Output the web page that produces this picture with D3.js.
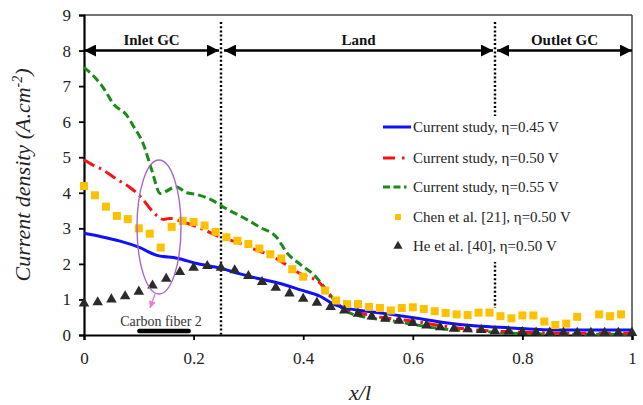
<!DOCTYPE html>
<html><head><meta charset="utf-8">
<script src="https://cdn.jsdelivr.net/npm/d3@7"></script>
<style>
body{margin:0;background:#fff;}
svg{display:block;}
svg text{font-family:"Liberation Serif","Times New Roman",Times,Tinos,serif !important;}
</style></head>
<body><svg id="c" width="643" height="405"></svg>
<script>
// ---------- data ----------
const xTicks = [0, 0.2, 0.4, 0.6, 0.8, 1];
const xTickLabels = ["0", "0.2", "0.4", "0.6", "0.8", "1"];
const yTicks = [0,1,2,3,4,5,6,7,8,9];

const blueX = [0, 0.03, 0.066, 0.10, 0.133, 0.17, 0.206, 0.248, 0.285, 0.32, 0.358, 0.395, 0.431, 0.455, 0.48, 0.516, 0.56, 0.608, 0.656, 0.717, 0.778, 0.839, 0.9, 1.0];
const blueY = [2.86, 2.77, 2.64, 2.47, 2.24, 2.16, 2.01, 1.88, 1.72, 1.58, 1.45, 1.27, 1.09, 0.87, 0.75, 0.67, 0.58, 0.47, 0.35, 0.25, 0.20, 0.15, 0.14, 0.14];

const redX = [0, 0.014, 0.035, 0.06, 0.084, 0.105, 0.126, 0.145, 0.157, 0.18, 0.2, 0.248, 0.279, 0.309, 0.34, 0.37, 0.395, 0.43, 0.449, 0.468, 0.498, 0.541, 0.60, 0.656, 0.717, 0.778, 0.839, 0.9, 1.0];
const redY = [4.93, 4.80, 4.64, 4.38, 4.15, 3.86, 3.46, 3.25, 3.28, 3.18, 3.08, 2.76, 2.61, 2.42, 2.24, 1.97, 1.72, 1.47, 1.09, 0.81, 0.64, 0.50, 0.39, 0.25, 0.14, 0.09, 0.06, 0.05, 0.05];

const greenX = [0, 0.017, 0.035, 0.054, 0.078, 0.09, 0.108, 0.124, 0.139, 0.151, 0.167, 0.188, 0.206, 0.23, 0.26, 0.297, 0.321, 0.352, 0.37, 0.395, 0.419, 0.443, 0.461, 0.48, 0.516, 0.553, 0.60, 0.656, 0.717, 0.778, 0.839, 0.9, 1.0];
const greenY = [7.53, 7.29, 6.96, 6.49, 6.18, 5.88, 5.38, 4.62, 3.98, 4.05, 4.17, 4.0, 3.95, 3.82, 3.55, 3.25, 3.03, 2.74, 2.32, 1.98, 1.70, 1.26, 0.90, 0.66, 0.49, 0.42, 0.30, 0.17, 0.11, 0.05, 0.03, 0.02, 0.02];

const chenX = [0, 0.02, 0.04, 0.06, 0.08, 0.10, 0.12, 0.14, 0.16, 0.18, 0.20, 0.22, 0.24, 0.26, 0.28, 0.30, 0.32, 0.34, 0.36, 0.38, 0.40, 0.44, 0.46, 0.48, 0.50, 0.52, 0.54, 0.56, 0.58, 0.60, 0.62, 0.64, 0.66, 0.68, 0.70, 0.72, 0.74, 0.76, 0.78, 0.80, 0.82, 0.84, 0.86, 0.88, 0.90, 0.94, 0.96, 0.98];
const chenY = [4.19, 3.93, 3.61, 3.35, 3.26, 3.0, 2.85, 2.46, 3.04, 3.21, 3.18, 3.08, 2.90, 2.75, 2.65, 2.56, 2.43, 2.27, 2.15, 1.85, 1.64, 1.25, 0.97, 0.87, 0.87, 0.79, 0.76, 0.69, 0.76, 0.78, 0.73, 0.67, 0.62, 0.58, 0.56, 0.63, 0.63, 0.53, 0.47, 0.55, 0.55, 0.38, 0.28, 0.32, 0.51, 0.58, 0.53, 0.58];

const heX = [0, 0.025, 0.05, 0.075, 0.1, 0.125, 0.15, 0.175, 0.2, 0.225, 0.25, 0.275, 0.3, 0.325, 0.35, 0.375, 0.4, 0.425, 0.45, 0.475, 0.5, 0.525, 0.55, 0.575, 0.6, 0.625, 0.65, 0.675, 0.7, 0.725, 0.75, 0.775, 0.8, 0.825, 0.85, 0.875, 0.9, 0.925, 0.95, 0.975, 1.0];
const heY = [0.89, 0.92, 1.0, 1.09, 1.22, 1.39, 1.58, 1.77, 1.89, 1.94, 1.89, 1.82, 1.66, 1.49, 1.33, 1.17, 1.02, 0.91, 0.79, 0.69, 0.60, 0.52, 0.46, 0.40, 0.34, 0.27, 0.22, 0.18, 0.16, 0.14, 0.11, 0.10, 0.08, 0.07, 0.07, 0.06, 0.06, 0.06, 0.06, 0.06, 0.06];

const legendLabels = ["Current study, \u03b7=0.45 V", "Current study, \u03b7=0.50 V", "Current study, \u03b7=0.55 V", "Chen et al. [21], \u03b7=0.50 V", "He et al. [40], \u03b7=0.50 V"];
const regionBounds = [0, 0.25, 0.75, 1];
const regionNames = ["Inlet GC", "Land", "Outlet GC"];
const fiberRange = [0.101, 0.191];

// ---------- drawing ----------
const FONT = "Liberation Serif";
const svg = d3.select("#c");
const x = d3.scaleLinear().domain([0,1]).range([84,632]);
const y = d3.scaleLinear().domain([0,9]).range([335,15]);

const defs = svg.append("defs");
defs.append("marker").attr("id","ah").attr("viewBox","0 0 12 12").attr("refX",12).attr("refY",6)
  .attr("markerWidth",12).attr("markerHeight",12).attr("markerUnits","userSpaceOnUse").attr("orient","auto-start-reverse")
  .append("path").attr("d","M0,0L12,6L0,12Z").attr("fill","#000");
defs.append("marker").attr("id","ph").attr("viewBox","0 0 8 8").attr("refX",8).attr("refY",4)
  .attr("markerWidth",7).attr("markerHeight",7).attr("markerUnits","userSpaceOnUse").attr("orient","auto")
  .append("path").attr("d","M0,0L8,4L0,8Z").attr("fill","#f07cc8");

// frame top/right
svg.append("line").attr("x1",x(0)).attr("x2",x(1)).attr("y1",y(9)).attr("y2",y(9)).attr("stroke","#444").attr("stroke-width",1.5);
svg.append("line").attr("x1",x(1)).attr("x2",x(1)).attr("y1",y(9)).attr("y2",y(0)).attr("stroke","#444").attr("stroke-width",1.5);

// axes
const gx = svg.append("g").attr("transform",`translate(0,${y(0)})`)
  .call(d3.axisBottom(x).tickValues(xTicks).tickFormat((d,i)=>xTickLabels[i]).tickSize(5).tickPadding(12));
const gy = svg.append("g").attr("transform",`translate(${x(0)},0)`)
  .call(d3.axisLeft(y).tickValues(yTicks).tickFormat(d3.format("d")).tickSize(5).tickPadding(8));
[gx,gy].forEach(g=>{
  g.attr("font-family",FONT);
  g.select(".domain").attr("stroke","#000").attr("stroke-width",2.2);
  g.selectAll(".tick line").attr("stroke","#000").attr("stroke-width",1.8);
  g.selectAll(".tick text").attr("font-family",FONT).attr("font-size",17).attr("fill","#222");
});

// vertical dotted dividers
svg.append("line").attr("x1",x(regionBounds[1])).attr("x2",x(regionBounds[1])).attr("y1",22).attr("y2",y(0))
  .attr("stroke","#000").attr("stroke-width",2.4).attr("stroke-dasharray","2,2.2");
svg.append("line").attr("x1",x(regionBounds[2])).attr("x2",x(regionBounds[2])).attr("y1",22).attr("y2",308)
  .attr("stroke","#000").attr("stroke-width",2.4).attr("stroke-dasharray","2,2.2");

// region arrows at y=8
const arrowY = y(8);
const gaps = [[0,-2],[3,-2],[2,0]];
regionNames.forEach((nm,i)=>{
  const x1 = x(regionBounds[i]) + gaps[i][0], x2 = x(regionBounds[i+1]) + gaps[i][1];
  svg.append("line").attr("x1",x1).attr("x2",x2).attr("y1",arrowY).attr("y2",arrowY)
    .attr("stroke","#000").attr("stroke-width",2.4)
    .attr("marker-start","url(#ah)").attr("marker-end","url(#ah)");
  svg.append("text").attr("x",(x1+x2)/2).attr("y",arrowY-6).attr("text-anchor","middle")
    .attr("font-family",FONT).attr("font-weight","bold").attr("font-size",15).attr("fill","#111").text(nm);
});

// curves
const line = d3.line().x(d=>x(d[0])).y(d=>y(d[1])).curve(d3.curveMonotoneX);
const zip = (a,b)=>a.map((v,i)=>[v,b[i]]);
svg.append("path").datum(zip(greenX,greenY)).attr("d",line).attr("fill","none")
  .attr("stroke","#1a8a1a").attr("stroke-width",3).attr("stroke-dasharray","8,4");
svg.append("path").datum(zip(redX,redY)).attr("d",line).attr("fill","none")
  .attr("stroke","#ff1010").attr("stroke-width",3).attr("stroke-dasharray","12,5,2.5,5");
svg.append("path").datum(zip(blueX,blueY)).attr("d",line).attr("fill","none")
  .attr("stroke","#1010ff").attr("stroke-width",3);

// Chen squares
svg.append("g").selectAll("rect").data(zip(chenX,chenY)).join("rect")
  .attr("x",d=>x(d[0])-4).attr("y",d=>y(d[1])-4).attr("width",8).attr("height",8).attr("fill","#ffc000");
// He triangles
const tri = d3.symbol().type(d3.symbolTriangle).size(48);
svg.append("g").selectAll("path").data(zip(heX,heY)).join("path")
  .attr("transform",d=>`translate(${x(d[0])},${y(d[1])})`).attr("d",tri).attr("fill","#2b2b2b");

// legend
const lg = svg.append("g");
lg.append("rect").attr("x",378).attr("y",116).attr("width",250).attr("height",146).attr("fill","#fff");
const ly = [127,158,187,217,246];
lg.append("line").attr("x1",383).attr("x2",411).attr("y1",ly[0]).attr("y2",ly[0]).attr("stroke","#1010ff").attr("stroke-width",3);
lg.append("line").attr("x1",383).attr("x2",411).attr("y1",ly[1]).attr("y2",ly[1]).attr("stroke","#ff1010").attr("stroke-width",3).attr("stroke-dasharray","12,7,2.5,20");
lg.append("line").attr("x1",383).attr("x2",411).attr("y1",ly[2]).attr("y2",ly[2]).attr("stroke","#1a8a1a").attr("stroke-width",3).attr("stroke-dasharray","7,3.5,7,3.5,2.5,20");
lg.append("rect").attr("x",395).attr("y",ly[3]-3).attr("width",6).attr("height",6).attr("fill","#ffc000");
lg.append("path").attr("transform",`translate(398,${ly[4]})`).attr("d",d3.symbol().type(d3.symbolTriangle).size(36)).attr("fill","#2b2b2b");
legendLabels.forEach((t,i)=>{
  lg.append("text").attr("x",413).attr("y",ly[i]+5).attr("font-family",FONT).attr("font-size",15).attr("fill","#222").text(t);
});

// carbon fiber annotation
svg.append("ellipse").attr("cx",159).attr("cy",227).attr("rx",22).attr("ry",67)
  .attr("fill","none").attr("stroke","#a866c4").attr("stroke-width",1.4);
svg.append("line").attr("x1",155).attr("y1",294).attr("x2",150).attr("y2",308)
  .attr("stroke","#f07cc8").attr("stroke-width",1.4).attr("marker-end","url(#ph)");
svg.append("text").attr("x",161).attr("y",326).attr("text-anchor","middle").attr("font-family",FONT).attr("font-size",14).attr("fill","#333").text("Carbon fiber 2");
svg.append("line").attr("x1",x(fiberRange[0])).attr("x2",x(fiberRange[1])).attr("y1",331).attr("y2",331)
  .attr("stroke","#000").attr("stroke-width",4.5).attr("stroke-linecap","round");

// axis titles
svg.append("text").attr("transform","translate(30,175) rotate(-90)").attr("text-anchor","middle")
  .attr("font-family",FONT).attr("font-size",22).attr("font-style","italic").attr("fill","#222")
  .html('Current density (A.cm<tspan dy="-8" font-size="14">-2</tspan><tspan dy="8">)</tspan>');
svg.append("text").attr("x",360).attr("y",400).attr("text-anchor","middle")
  .attr("font-family",FONT).attr("font-size",22).attr("font-style","italic").attr("fill","#222").text("x/l");
</script></body></html>
